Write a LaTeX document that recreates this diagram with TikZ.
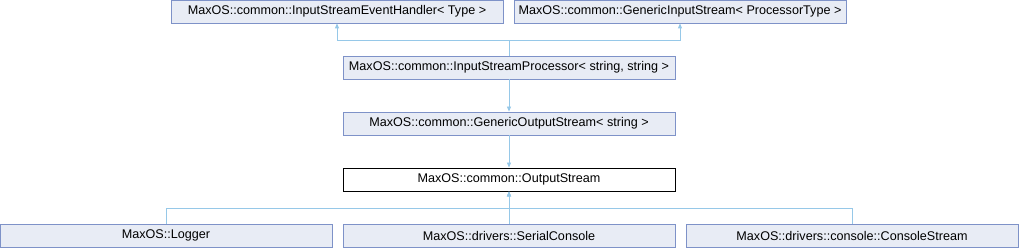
\documentclass[tikz,border=0pt]{standalone}
\usepackage{fontspec}
\setmainfont{Liberation Sans}
\usetikzlibrary{arrows.meta}
\definecolor{boxfill}{RGB}{232,236,245}
\definecolor{boxline}{RGB}{126,146,200}
\definecolor{edgecol}{RGB}{150,200,232}
\begin{document}
\begin{tikzpicture}[x=1pt,y=-1pt,
  txt/.style={font=\fontsize{12.6}{14}\selectfont},
  cls/.style={txt,draw=boxline,fill=boxfill,line width=0.8pt,minimum width=332pt,minimum height=23pt,inner sep=0pt},
  cur/.style={txt,draw=black,fill=white,line width=0.8pt,minimum width=332pt,minimum height=23pt,inner sep=0pt},
  inh/.style={draw=edgecol,line width=0.8pt,-{Triangle[width=4pt,length=5pt,fill=edgecol]}}]
\useasboundingbox (0,0) rectangle (1019,248);
\node[cls] (h) at (337,11.5) {MaxOS::common::InputStreamEventHandler< Type >};
\node[cls] (g) at (680,11.5) {MaxOS::common::GenericInputStream< ProcessorType >};
\node[cls] (p) at (509,67.5) {MaxOS::common::InputStreamProcessor< string, string >};
\node[cls] (o) at (509,123.5) {MaxOS::common::GenericOutputStream< string >};
\node[cur] (s) at (509,179.5) {MaxOS::common::OutputStream};
\node[cls] (l) at (166,235.5) {MaxOS::Logger};
\node[cls] (c) at (509,235.5) {MaxOS::drivers::SerialConsole};
\node[cls] (k) at (852,235.5) {MaxOS::drivers::console::ConsoleStream};
\coordinate (j1) at (509,40);
\coordinate (j2) at (509,208);
\draw[inh] (p.north) -- (j1) -| (h.south);
\draw[inh] (j1) -| (g.south);
\draw[inh] (p.south) -- (o.north);
\draw[inh] (o.south) -- (s.north);
\draw[inh] (c.north) -- (s.south);
\draw[inh] (l.north) |- (j2) -- (s.south);
\draw[inh] (k.north) |- (j2) -- (s.south);
\end{tikzpicture}
\end{document}
